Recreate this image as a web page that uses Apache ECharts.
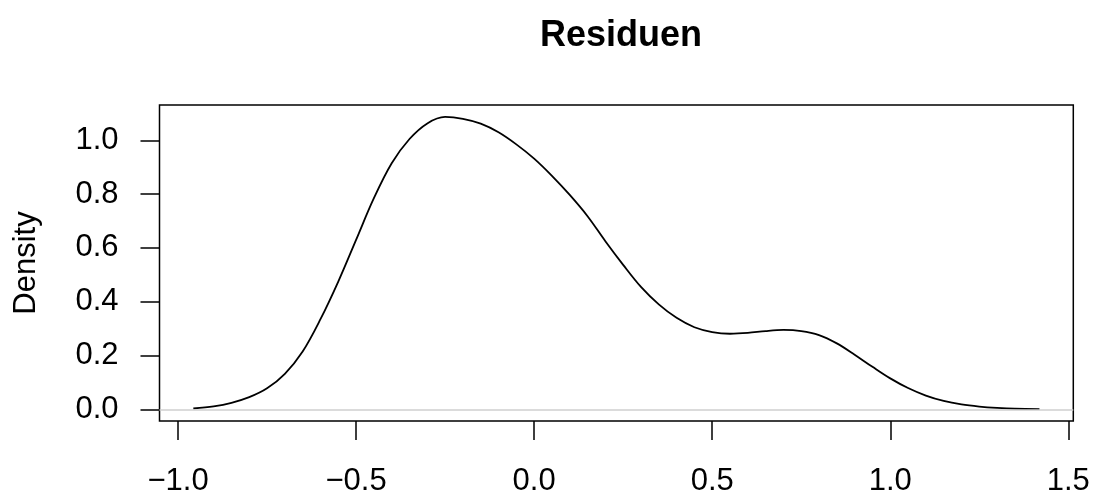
<!DOCTYPE html>
<html>
<head>
<meta charset="utf-8">
<script src="https://cdn.jsdelivr.net/npm/echarts@6/dist/echarts.min.js"></script>
<style>
html,body{margin:0;padding:0;background:#fff;}
#chart{width:1101px;height:497px;}
</style>
</head>
<body>
<div id="chart"></div>
<script>
const titleText = "Residuen";
const yName = "Density";
const xTicks = [-1.0, -0.5, 0.0, 0.5, 1.0, 1.5];
const yTicks = [0.0, 0.2, 0.4, 0.6, 0.8, 1.0];
const densX = [-0.957,-0.90,-0.85,-0.80,-0.75,-0.70,-0.65,-0.60,-0.55,-0.50,-0.45,-0.40,-0.35,-0.30,-0.25,-0.20,-0.15,-0.10,-0.05,0.0,0.05,0.10,0.15,0.20,0.25,0.30,0.35,0.40,0.45,0.50,0.55,0.60,0.65,0.70,0.75,0.80,0.85,0.90,0.95,1.00,1.05,1.10,1.15,1.20,1.25,1.30,1.35,1.419];
const densY = [0.003,0.011,0.024,0.045,0.078,0.132,0.215,0.335,0.475,0.630,0.785,0.915,1.005,1.063,1.087,1.080,1.062,1.030,0.985,0.932,0.868,0.797,0.718,0.625,0.537,0.455,0.390,0.340,0.305,0.287,0.281,0.284,0.291,0.295,0.291,0.276,0.245,0.203,0.158,0.115,0.079,0.051,0.031,0.018,0.010,0.005,0.002,0.001];

const xMin = -1.052, xMax = 1.514;
const yMin = -0.0435, yMax = 1.1315;

const fmt = v => {
  const s = Math.abs(v).toFixed(1);
  return (v < -1e-9 ? "\u2212" : "") + s;
};

const chart = echarts.init(document.getElementById('chart'), null, {renderer:'canvas'});
const font = "'Liberation Sans', Arial, Helvetica, sans-serif";
chart.setOption({
  animation: false,
  backgroundColor: '#fff',
  textStyle: {fontFamily: font},
  title: {
    text: titleText,
    left: 535, top: 13,
    textStyle: {fontFamily: font, fontSize: 36, fontWeight: 'bold', color: '#000'}
  },
  grid: {
    left: 159.5, right: 27.7, top: 105, bottom: 73.7,
    show: true, borderColor: '#000', borderWidth: 1.5, backgroundColor: 'transparent'
  },
  xAxis: {
    type: 'value', min: xMin, max: xMax,
    splitLine: {show: false},
    axisLine: {show: false, onZero: false},
    axisTick: {show: true, length: 19, customValues: xTicks, lineStyle: {color: '#000', width: 1.5}},
    axisLabel: {show: true, customValues: xTicks, formatter: fmt, margin: 45, fontSize: 31, color: '#000', fontFamily: font}
  },
  yAxis: {
    type: 'value', min: yMin, max: yMax,
    name: yName, nameLocation: 'middle', nameRotate: 90, nameGap: 118,
    nameTextStyle: {fontSize: 31, color: '#000', fontFamily: font},
    splitLine: {show: false},
    axisLine: {show: false, onZero: false},
    axisTick: {show: true, length: 19, customValues: yTicks, lineStyle: {color: '#000', width: 1.5}},
    axisLabel: {show: true, customValues: yTicks, formatter: v => v.toFixed(1), margin: 41, fontSize: 31, color: '#000', fontFamily: font}
  },
  series: [{
    type: 'line',
    data: densX.map((x, i) => [x, densY[i]]),
    showSymbol: false,
    smooth: 0.35,
    lineStyle: {color: '#000', width: 1.8},
    markLine: {
      silent: true, symbol: 'none', label: {show: false},
      lineStyle: {color: '#cfcfcf', width: 1.5, type: 'solid'},
      data: [{yAxis: 0}]
    },
    z: 3
  }]
});
</script>
</body>
</html>
